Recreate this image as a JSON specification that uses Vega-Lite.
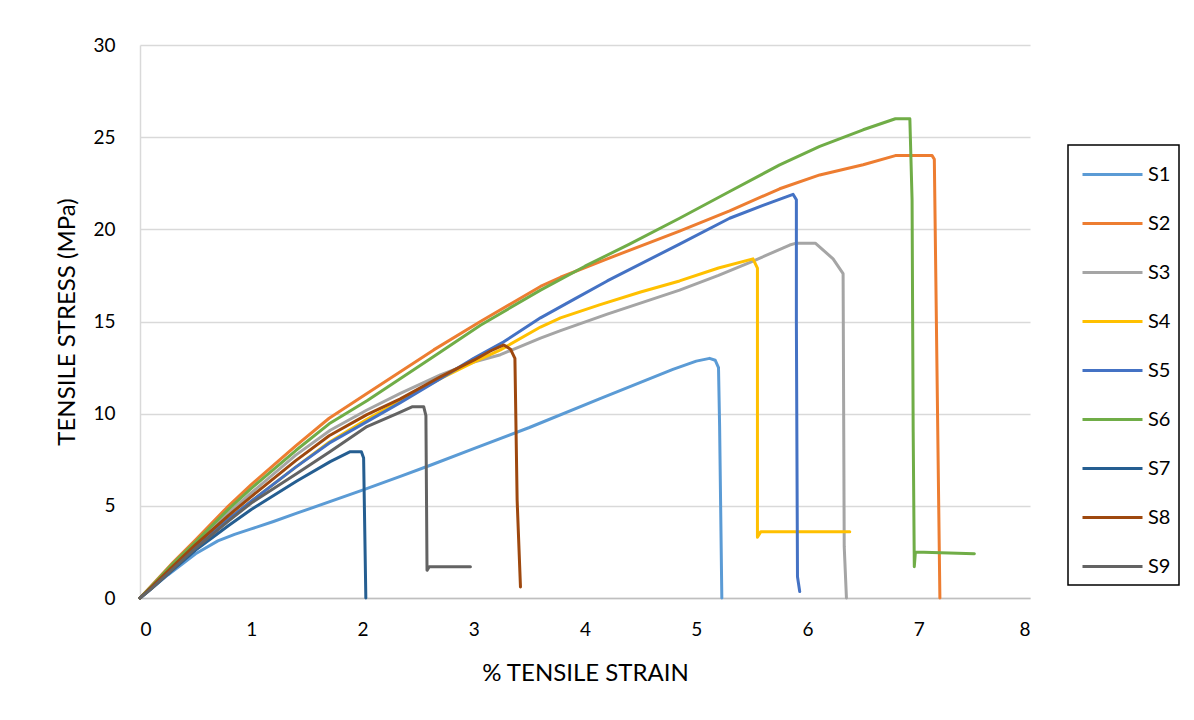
{
"$schema": "https://vega.github.io/schema/vega-lite/v6.json",
"width": 890, "height": 553,
"autosize": {"type": "none"},
"padding": {"left": 140, "top": 45, "right": 164, "bottom": 122},
"background": "white",
"config": {"view": {"stroke": null}, "font": "Lato"},
"data": {"values": [
{"s":"S1","i":0,"x":0,"y":0},{"s":"S1","i":1,"x":0.1,"y":0.5},{"s":"S1","i":2,"x":0.25,"y":1.25},{"s":"S1","i":3,"x":0.5,"y":2.4},{"s":"S1","i":4,"x":0.7,"y":3.1},{"s":"S1","i":5,"x":0.85,"y":3.45},{"s":"S1","i":6,"x":1.0,"y":3.75},{"s":"S1","i":7,"x":1.2,"y":4.15},{"s":"S1","i":8,"x":1.41,"y":4.6},{"s":"S1","i":9,"x":2.0,"y":5.85},{"s":"S1","i":10,"x":2.34,"y":6.6},{"s":"S1","i":11,"x":2.61,"y":7.2},{"s":"S1","i":12,"x":3.0,"y":8.1},{"s":"S1","i":13,"x":3.5,"y":9.25},{"s":"S1","i":14,"x":4.13,"y":10.8},{"s":"S1","i":15,"x":4.79,"y":12.4},{"s":"S1","i":16,"x":5.0,"y":12.85},{"s":"S1","i":17,"x":5.12,"y":13.0},{"s":"S1","i":18,"x":5.17,"y":12.9},{"s":"S1","i":19,"x":5.2,"y":12.5},{"s":"S1","i":20,"x":5.21,"y":9.3},{"s":"S1","i":21,"x":5.23,"y":0},
{"s":"S2","i":0,"x":0,"y":0},{"s":"S2","i":1,"x":0.1,"y":0.65},{"s":"S2","i":2,"x":0.3,"y":1.95},{"s":"S2","i":3,"x":0.5,"y":3.15},{"s":"S2","i":4,"x":0.78,"y":4.9},{"s":"S2","i":5,"x":1.0,"y":6.15},{"s":"S2","i":6,"x":1.4,"y":8.25},{"s":"S2","i":7,"x":1.7,"y":9.75},{"s":"S2","i":8,"x":2.04,"y":11.1},{"s":"S2","i":9,"x":2.64,"y":13.46},{"s":"S2","i":10,"x":3.06,"y":15.0},{"s":"S2","i":11,"x":3.6,"y":16.9},{"s":"S2","i":12,"x":3.78,"y":17.4},{"s":"S2","i":13,"x":4.2,"y":18.4},{"s":"S2","i":14,"x":4.85,"y":19.9},{"s":"S2","i":15,"x":5.3,"y":21.0},{"s":"S2","i":16,"x":5.75,"y":22.2},{"s":"S2","i":17,"x":6.11,"y":22.95},{"s":"S2","i":18,"x":6.5,"y":23.5},{"s":"S2","i":19,"x":6.79,"y":24.0},{"s":"S2","i":20,"x":7.12,"y":24.0},{"s":"S2","i":21,"x":7.14,"y":23.8},{"s":"S2","i":22,"x":7.19,"y":0},
{"s":"S3","i":0,"x":0,"y":0},{"s":"S3","i":1,"x":0.1,"y":0.6},{"s":"S3","i":2,"x":0.3,"y":1.8},{"s":"S3","i":3,"x":0.5,"y":2.95},{"s":"S3","i":4,"x":0.8,"y":4.65},{"s":"S3","i":5,"x":1.0,"y":5.7},{"s":"S3","i":6,"x":1.4,"y":7.75},{"s":"S3","i":7,"x":1.71,"y":9.1},{"s":"S3","i":8,"x":2.04,"y":10.2},{"s":"S3","i":9,"x":2.34,"y":11.1},{"s":"S3","i":10,"x":2.7,"y":12.1},{"s":"S3","i":11,"x":3.0,"y":12.8},{"s":"S3","i":12,"x":3.24,"y":13.2},{"s":"S3","i":13,"x":3.6,"y":14.1},{"s":"S3","i":14,"x":3.78,"y":14.5},{"s":"S3","i":15,"x":4.2,"y":15.4},{"s":"S3","i":16,"x":4.85,"y":16.7},{"s":"S3","i":17,"x":5.2,"y":17.5},{"s":"S3","i":18,"x":5.5,"y":18.25},{"s":"S3","i":19,"x":5.84,"y":19.15},{"s":"S3","i":20,"x":5.9,"y":19.25},{"s":"S3","i":21,"x":6.07,"y":19.25},{"s":"S3","i":22,"x":6.23,"y":18.4},{"s":"S3","i":23,"x":6.32,"y":17.6},{"s":"S3","i":24,"x":6.33,"y":2.8},{"s":"S3","i":25,"x":6.35,"y":0},
{"s":"S4","i":0,"x":0,"y":0},{"s":"S4","i":1,"x":0.1,"y":0.55},{"s":"S4","i":2,"x":0.3,"y":1.65},{"s":"S4","i":3,"x":0.5,"y":2.75},{"s":"S4","i":4,"x":0.8,"y":4.3},{"s":"S4","i":5,"x":1.0,"y":5.25},{"s":"S4","i":6,"x":1.4,"y":7.1},{"s":"S4","i":7,"x":1.7,"y":8.45},{"s":"S4","i":8,"x":2.04,"y":9.7},{"s":"S4","i":9,"x":2.34,"y":10.7},{"s":"S4","i":10,"x":2.7,"y":11.9},{"s":"S4","i":11,"x":3.0,"y":12.8},{"s":"S4","i":12,"x":3.24,"y":13.46},{"s":"S4","i":13,"x":3.6,"y":14.7},{"s":"S4","i":14,"x":3.78,"y":15.2},{"s":"S4","i":15,"x":4.13,"y":15.9},{"s":"S4","i":16,"x":4.5,"y":16.6},{"s":"S4","i":17,"x":4.85,"y":17.2},{"s":"S4","i":18,"x":5.2,"y":17.9},{"s":"S4","i":19,"x":5.51,"y":18.4},{"s":"S4","i":20,"x":5.55,"y":17.9},{"s":"S4","i":21,"x":5.55,"y":3.3},{"s":"S4","i":22,"x":5.58,"y":3.6},{"s":"S4","i":23,"x":6.38,"y":3.6},
{"s":"S5","i":0,"x":0,"y":0},{"s":"S5","i":1,"x":0.1,"y":0.55},{"s":"S5","i":2,"x":0.3,"y":1.65},{"s":"S5","i":3,"x":0.5,"y":2.75},{"s":"S5","i":4,"x":0.8,"y":4.3},{"s":"S5","i":5,"x":1.0,"y":5.25},{"s":"S5","i":6,"x":1.4,"y":7.1},{"s":"S5","i":7,"x":1.7,"y":8.4},{"s":"S5","i":8,"x":2.04,"y":9.57},{"s":"S5","i":9,"x":2.34,"y":10.6},{"s":"S5","i":10,"x":2.7,"y":11.9},{"s":"S5","i":11,"x":3.0,"y":13.0},{"s":"S5","i":12,"x":3.27,"y":13.9},{"s":"S5","i":13,"x":3.6,"y":15.2},{"s":"S5","i":14,"x":3.9,"y":16.2},{"s":"S5","i":15,"x":4.2,"y":17.2},{"s":"S5","i":16,"x":4.85,"y":19.2},{"s":"S5","i":17,"x":5.3,"y":20.6},{"s":"S5","i":18,"x":5.6,"y":21.3},{"s":"S5","i":19,"x":5.87,"y":21.9},{"s":"S5","i":20,"x":5.9,"y":21.6},{"s":"S5","i":21,"x":5.9,"y":15},{"s":"S5","i":22,"x":5.91,"y":1.15},{"s":"S5","i":23,"x":5.93,"y":0.35},
{"s":"S6","i":0,"x":0,"y":0},{"s":"S6","i":1,"x":0.1,"y":0.62},{"s":"S6","i":2,"x":0.3,"y":1.9},{"s":"S6","i":3,"x":0.5,"y":3.05},{"s":"S6","i":4,"x":0.8,"y":4.85},{"s":"S6","i":5,"x":1.0,"y":5.95},{"s":"S6","i":6,"x":1.4,"y":8.0},{"s":"S6","i":7,"x":1.7,"y":9.45},{"s":"S6","i":8,"x":2.04,"y":10.7},{"s":"S6","i":9,"x":2.64,"y":13.1},{"s":"S6","i":10,"x":3.06,"y":14.8},{"s":"S6","i":11,"x":3.6,"y":16.7},{"s":"S6","i":12,"x":4.0,"y":18.0},{"s":"S6","i":13,"x":4.4,"y":19.2},{"s":"S6","i":14,"x":4.85,"y":20.6},{"s":"S6","i":15,"x":5.3,"y":22.05},{"s":"S6","i":16,"x":5.75,"y":23.5},{"s":"S6","i":17,"x":6.11,"y":24.5},{"s":"S6","i":18,"x":6.5,"y":25.4},{"s":"S6","i":19,"x":6.79,"y":26.0},{"s":"S6","i":20,"x":6.92,"y":26.0},{"s":"S6","i":21,"x":6.94,"y":21.6},{"s":"S6","i":22,"x":6.95,"y":9.0},{"s":"S6","i":23,"x":6.96,"y":1.7},{"s":"S6","i":24,"x":6.97,"y":2.5},{"s":"S6","i":25,"x":7.5,"y":2.4},
{"s":"S7","i":0,"x":0,"y":0},{"s":"S7","i":1,"x":0.1,"y":0.5},{"s":"S7","i":2,"x":0.3,"y":1.55},{"s":"S7","i":3,"x":0.5,"y":2.6},{"s":"S7","i":4,"x":0.8,"y":3.95},{"s":"S7","i":5,"x":1.0,"y":4.8},{"s":"S7","i":6,"x":1.41,"y":6.35},{"s":"S7","i":7,"x":1.71,"y":7.4},{"s":"S7","i":8,"x":1.89,"y":7.94},{"s":"S7","i":9,"x":1.99,"y":7.94},{"s":"S7","i":10,"x":2.01,"y":7.6},{"s":"S7","i":11,"x":2.03,"y":0},
{"s":"S8","i":0,"x":0,"y":0},{"s":"S8","i":1,"x":0.1,"y":0.58},{"s":"S8","i":2,"x":0.3,"y":1.75},{"s":"S8","i":3,"x":0.5,"y":2.9},{"s":"S8","i":4,"x":0.8,"y":4.5},{"s":"S8","i":5,"x":1.0,"y":5.5},{"s":"S8","i":6,"x":1.4,"y":7.45},{"s":"S8","i":7,"x":1.7,"y":8.8},{"s":"S8","i":8,"x":2.04,"y":9.95},{"s":"S8","i":9,"x":2.34,"y":10.8},{"s":"S8","i":10,"x":2.7,"y":12.0},{"s":"S8","i":11,"x":3.0,"y":12.9},{"s":"S8","i":12,"x":3.15,"y":13.4},{"s":"S8","i":13,"x":3.27,"y":13.73},{"s":"S8","i":14,"x":3.33,"y":13.5},{"s":"S8","i":15,"x":3.37,"y":13.0},{"s":"S8","i":16,"x":3.39,"y":5.3},{"s":"S8","i":17,"x":3.42,"y":0.6},
{"s":"S9","i":0,"x":0,"y":0},{"s":"S9","i":1,"x":0.1,"y":0.5},{"s":"S9","i":2,"x":0.3,"y":1.6},{"s":"S9","i":3,"x":0.5,"y":2.7},{"s":"S9","i":4,"x":0.8,"y":4.2},{"s":"S9","i":5,"x":1.0,"y":5.15},{"s":"S9","i":6,"x":1.41,"y":6.75},{"s":"S9","i":7,"x":1.71,"y":7.95},{"s":"S9","i":8,"x":2.04,"y":9.3},{"s":"S9","i":9,"x":2.31,"y":10.0},{"s":"S9","i":10,"x":2.45,"y":10.38},{"s":"S9","i":11,"x":2.55,"y":10.38},{"s":"S9","i":12,"x":2.57,"y":9.9},{"s":"S9","i":13,"x":2.58,"y":1.5},{"s":"S9","i":14,"x":2.6,"y":1.7},{"s":"S9","i":15,"x":2.97,"y":1.7}
]},
"mark": {"type": "line", "strokeWidth": 3, "strokeJoin": "round", "strokeCap": "round"},
"encoding": {
  "x": {"field": "x", "type": "quantitative",
    "scale": {"domain": [0, 8], "nice": false, "zero": true},
    "axis": {"title": "% TENSILE STRAIN", "values": [0,1,2,3,4,5,6,7,8], "grid": false, "ticks": false,
      "domainColor": "#BFBFBF", "domainWidth": 1.5, "labelFontSize": 19, "labelColor": "#000000", "labelPadding": 22,
      "labelFont": "Lato", "titleFont": "Lato", "titleFontSize": 24, "titleFontWeight": "normal", "titleColor": "#000000", "titlePadding": 22}},
  "y": {"field": "y", "type": "quantitative",
    "scale": {"domain": [0, 30], "nice": false},
    "axis": {"title": "TENSILE STRESS (MPa)", "values": [0,5,10,15,20,25,30], "grid": true, "gridColor": "#D9D9D9", "gridWidth": 1.5, "ticks": false,
      "domainColor": "#D9D9D9", "domainWidth": 1.5, "labelFontSize": 19, "labelColor": "#000000", "labelPadding": 25,
      "labelFont": "Lato", "titleFont": "Lato", "titleFontSize": 24, "titleFontWeight": "normal", "titleColor": "#000000", "titlePadding": 13}},
  "color": {"field": "s", "type": "nominal",
    "scale": {"domain": ["S1","S2","S3","S4","S5","S6","S7","S8","S9"],
      "range": ["#5B9BD5","#ED7D31","#A5A5A5","#FFC000","#4472C4","#70AD47","#255E91","#9E480E","#636363"]},
    "legend": {"orient": "none", "legendX": 928, "legendY": 100, "title": null,
      "symbolType": "M-0.75,0H2.25", "symbolStrokeWidth": 3, "symbolSize": 1600,
      "labelFontSize": 20, "labelFont": "Lato", "labelColor": "#000000", "labelOffset": 29,
      "strokeColor": "#000000", "padding": 8, "rowPadding": 17, "fillColor": "white",
      "encode": {"legend": {"update": {"strokeWidth": {"value": 1.5}}}}}},
  "order": {"field": "i", "type": "quantitative"}
}
}
